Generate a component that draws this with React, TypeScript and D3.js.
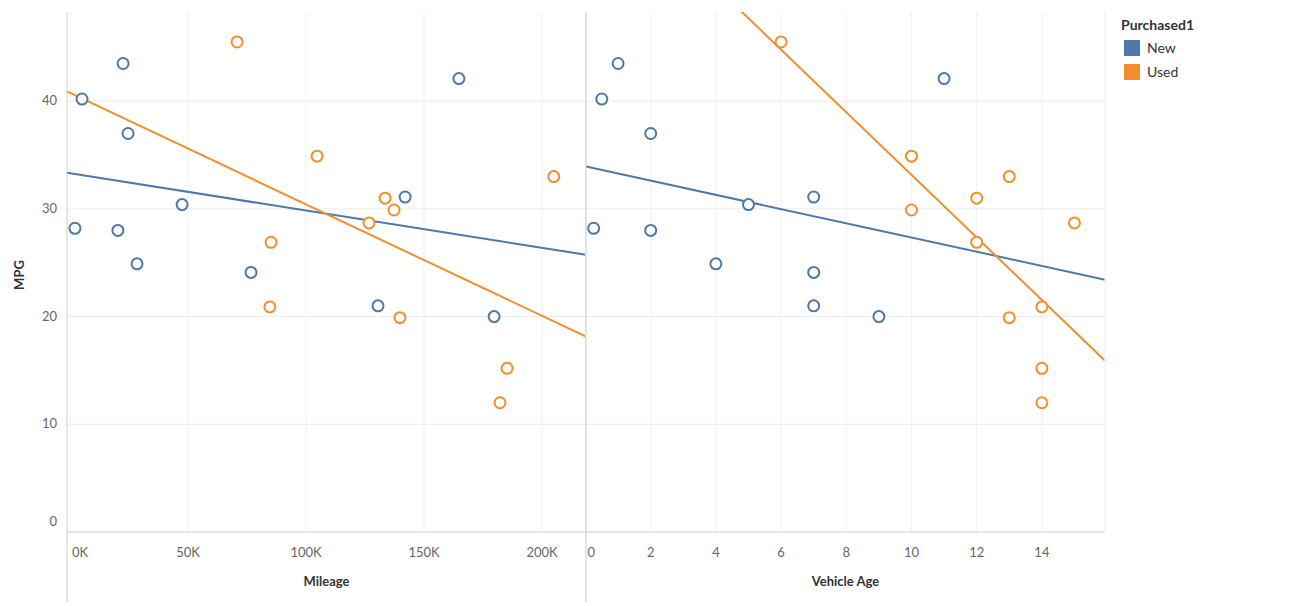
import React from "react";
import * as d3 from "d3";

const newMileage = [2.1, 5.1, 22.5, 24.6, 20.3, 28.4, 47.5, 76.7, 130.5, 142, 164.8, 179.7];
const newAge = [0.25, 0.5, 1, 2, 2, 4, 5, 7, 7, 7, 11, 9];
const newMPG = [28.2, 40.2, 43.5, 37, 28, 24.9, 30.4, 24.1, 21, 31.1, 42.1, 20];
const usedMileage = [70.8, 104.7, 137.3, 133.5, 85.2, 205, 139.8, 84.7, 185.2, 182.2, 126.7];
const usedAge = [6, 10, 10, 12, 12, 13, 13, 14, 14, 14, 15];
const usedMPG = [45.5, 34.9, 29.9, 31.0, 26.9, 33.0, 19.9, 20.9, 15.2, 12.0, 28.7];
const yTicks = [0, 10, 20, 30, 40];
const mileageTicks = [0, 50, 100, 150, 200];
const ageTicks = [0, 2, 4, 6, 8, 10, 12, 14];
const BLUE = "#4e79a7";
const ORANGE = "#f28e2b";

function fit(xs: number[], ys: number[]) {
  const mx = d3.mean(xs)!, my = d3.mean(ys)!;
  let num = 0, den = 0;
  xs.forEach((x, i) => { num += (x - mx) * (ys[i] - my); den += (x - mx) ** 2; });
  const b = num / den;
  return (x: number) => my + b * (x - mx);
}

const top = 12, bottom = 532;
const y = d3.scaleLinear().domain([0, (bottom - top) / 10.77]).range([bottom, top]);

function Panel({ x, xs1, xs2, ticks, fmt, title }: any) {
  const [x0, x1] = x.range();
  const [d0, d1] = x.domain();
  const f1 = fit(xs1, newMPG), f2 = fit(xs2, usedMPG);
  const clipId = "c" + Math.round(x0);
  return (
    <g>
      <clipPath id={clipId}><rect x={x0} y={top} width={x1 - x0} height={bottom - top} /></clipPath>
      {yTicks.filter(t => t > 0).map(t => (
        <line key={t} x1={x0} x2={x1} y1={y(t)} y2={y(t)} stroke="#ececec" />
      ))}
      {ticks.map((t: number) => (
        <line key={t} x1={x(t)} x2={x(t)} y1={top} y2={bottom} stroke="#f0f0f0" />
      ))}
      {ticks.map((t: number) => (
        <text key={"l" + t} x={x(t) + (t === 0 ? 2 : 0)} y={557} textAnchor={t === 0 ? "start" : "middle"} fontSize={13} fill="#666">{fmt(t)}</text>
      ))}
      <text x={(x0 + x1) / 2} y={586} textAnchor="middle" fontSize={13} fontWeight="bold" fill="#333">{title}</text>
      <g clipPath={`url(#${clipId})`}>
        <line x1={x0} x2={x1} y1={y(f1(d0))} y2={y(f1(d1))} stroke={BLUE} strokeWidth={2} />
        <line x1={x0} x2={x1} y1={y(f2(d0))} y2={y(f2(d1))} stroke={ORANGE} strokeWidth={2} />
      </g>
      {xs1.map((v: number, i: number) => (
        <circle key={"n" + i} cx={x(v)} cy={y(newMPG[i])} r={5.5} fill="white" stroke={BLUE} strokeWidth={2} />
      ))}
      {xs2.map((v: number, i: number) => (
        <circle key={"u" + i} cx={x(v)} cy={y(usedMPG[i])} r={5.5} fill="white" stroke={ORANGE} strokeWidth={2} />
      ))}
    </g>
  );
}

export default function App() {
  const xm = d3.scaleLinear().domain([(67 - 70) / 2.36, (586 - 70) / 2.36]).range([67, 586]);
  const xa = d3.scaleLinear().domain([(586 - 585.5) / 32.6, (1105 - 585.5) / 32.6]).range([586, 1105]);
  return (
    <svg width={1293} height={606} style={{ position: "absolute", left: 0, top: 0, fontFamily: "Lato, 'Open Sans', sans-serif" }}>
      <rect width={1293} height={606} fill="white" />
      <Panel x={xm} xs1={newMileage} xs2={usedMileage} ticks={mileageTicks} fmt={(t: number) => t + "K"} title="Mileage" />
      <Panel x={xa} xs1={newAge} xs2={usedAge} ticks={ageTicks} fmt={(t: number) => String(t)} title="Vehicle Age" />
      <line x1={67} x2={67} y1={top} y2={602} stroke="#ccc" />
      <line x1={586} x2={586} y1={top} y2={602} stroke="#ccc" />
      <line x1={1105} x2={1105} y1={top} y2={bottom} stroke="#eee" />
      <line x1={67} x2={1105} y1={bottom} y2={bottom} stroke="#ccc" />
      {yTicks.map(t => (
        <text key={t} x={57} y={t === 0 ? 526 : y(t) + 4} textAnchor="end" fontSize={13} fill="#666">{t}</text>
      ))}
      <text transform="translate(24,275) rotate(-90)" textAnchor="middle" fontSize={13} fontWeight="bold" fill="#333">MPG</text>
      <text x={1121} y={30} fontSize={14} fontWeight="bold" fill="#333">Purchased1</text>
      <rect x={1124} y={40} width={16} height={16} fill={BLUE} />
      <text x={1147} y={53} fontSize={14} fill="#333">New</text>
      <rect x={1124} y={64} width={16} height={16} fill={ORANGE} />
      <text x={1147} y={77} fontSize={14} fill="#333">Used</text>
    </svg>
  );
}
